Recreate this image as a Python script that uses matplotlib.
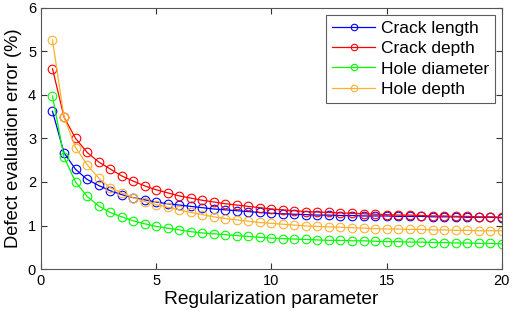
import matplotlib
matplotlib.use("Agg")
import matplotlib.pyplot as plt
import numpy as np

plt.rcParams['font.family'] = ['Liberation Sans', 'DejaVu Sans']

reg_param = [0.5, 1.0, 1.5, 2.0, 2.5, 3.0, 3.5, 4.0, 4.5, 5.0,
             5.5, 6.0, 6.5, 7.0, 7.5, 8.0, 8.5, 9.0, 9.5, 10.0,
             10.5, 11.0, 11.5, 12.0, 12.5, 13.0, 13.5, 14.0, 14.5, 15.0,
             15.5, 16.0, 16.5, 17.0, 17.5, 18.0, 18.5, 19.0, 19.5, 20.0]

crack_length = [3.62, 2.67, 2.29, 2.06, 1.92, 1.80, 1.71, 1.64, 1.59, 1.54,
                1.50, 1.47, 1.44, 1.41, 1.38, 1.36, 1.34, 1.32, 1.30, 1.28,
                1.27, 1.26, 1.25, 1.24, 1.24, 1.23, 1.23, 1.22, 1.22, 1.22,
                1.21, 1.21, 1.21, 1.20, 1.20, 1.20, 1.19, 1.19, 1.19, 1.18]

crack_depth = [4.60, 3.49, 3.00, 2.68, 2.46, 2.30, 2.14, 2.02, 1.91, 1.82,
               1.75, 1.68, 1.63, 1.58, 1.54, 1.50, 1.47, 1.44, 1.41, 1.38,
               1.36, 1.34, 1.32, 1.31, 1.30, 1.29, 1.28, 1.27, 1.26, 1.25,
               1.24, 1.24, 1.23, 1.22, 1.22, 1.21, 1.21, 1.20, 1.20, 1.19]

hole_diameter = [3.97, 2.57, 2.00, 1.67, 1.45, 1.30, 1.20, 1.11, 1.04, 0.98,
                 0.94, 0.90, 0.86, 0.83, 0.81, 0.79, 0.77, 0.75, 0.73, 0.71,
                 0.70, 0.69, 0.68, 0.67, 0.66, 0.66, 0.65, 0.65, 0.64, 0.63,
                 0.63, 0.62, 0.62, 0.61, 0.61, 0.60, 0.60, 0.59, 0.59, 0.58]

hole_depth = [5.26, 3.49, 2.79, 2.40, 2.09, 1.87, 1.75, 1.64, 1.55, 1.48,
              1.42, 1.36, 1.30, 1.25, 1.20, 1.16, 1.13, 1.10, 1.07, 1.05,
              1.03, 1.01, 0.99, 0.98, 0.97, 0.96, 0.95, 0.94, 0.93, 0.92,
              0.92, 0.91, 0.91, 0.90, 0.90, 0.89, 0.89, 0.88, 0.88, 0.88]

labels = ['Crack length', 'Crack depth', 'Hole diameter', 'Hole depth']
colors = ['#0000FF', '#FF0000', '#00FF00', '#FFB030']
series = [crack_length, crack_depth, hole_diameter, hole_depth]

fig = plt.figure(figsize=(5.12, 3.17), dpi=100)
ax = fig.add_axes([0.080, 0.151, 0.900, 0.825])

for y, c, lab in zip(series, colors, labels):
    ax.plot(reg_param, y, color=c, lw=0.9, marker='o', markersize=6.2,
            markerfacecolor='none', markeredgecolor=c, markeredgewidth=0.8,
            label=lab)

ax.set_xlim(0, 20)
ax.set_ylim(0, 6)
ax.set_xticks([0, 5, 10, 15, 20])
ax.set_yticks([0, 1, 2, 3, 4, 5, 6])
ax.tick_params(direction='in', top=True, right=True, labelsize=10.5,
               length=4.5, width=0.8, colors='#333333', labelcolor='black')
for s in ax.spines.values():
    s.set_color('#555555')
    s.set_linewidth(0.8)

ax.set_xlabel('Regularization parameter', fontsize=13.8, labelpad=2)
ax.set_ylabel('Defect evaluation error (%)', fontsize=13.2, labelpad=4)

leg = ax.legend(loc='upper right', fontsize=12.5, frameon=True, fancybox=False,
                edgecolor='#333333', handlelength=2.5, borderpad=0.35,
                labelspacing=0.3, handletextpad=0.3, borderaxespad=0.4,
                markerscale=0.75)
leg.get_frame().set_linewidth(0.8)

fig.savefig('out.png', dpi=100)
